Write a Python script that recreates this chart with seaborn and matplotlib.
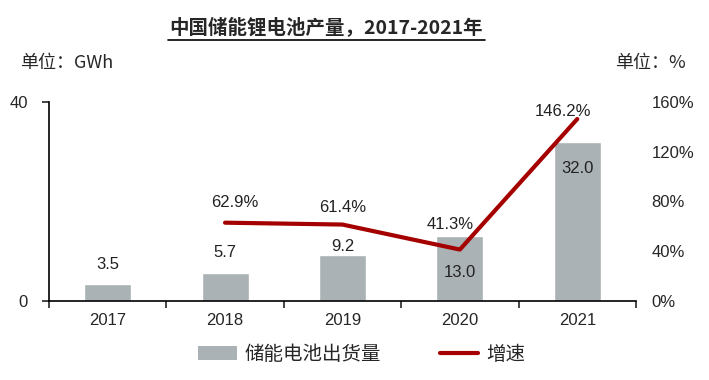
import numpy as np
import pandas as pd
import matplotlib
matplotlib.use("Agg")
import matplotlib.pyplot as plt
from matplotlib.patches import Patch
from matplotlib.lines import Line2D
import seaborn as sns

# dados
anos = ["2017", "2018", "2019", "2020", "2021"]
producao = [3.5, 5.7, 9.2, 13.0, 32.0]          # GWh
anos_cresc = ["2018", "2019", "2020", "2021"]
crescimento = [62.9, 61.4, 41.3, 146.2]         # %

cor_barra = "#ABB2B5"
cor_linha = "#A50000"

sns.set_style("white")
plt.rcParams["font.family"] = ["Liberation Sans", "Noto Sans CJK SC", "DejaVu Sans"]
fonte_cjk = ["Noto Sans CJK SC", "DejaVu Sans"]

fig = plt.figure(figsize=(7.09, 3.8), dpi=100)
ax = fig.add_axes([0.069, 0.208, 0.828, 0.524])

df = pd.DataFrame({"ano": anos, "producao": producao})
sns.barplot(data=df, x="ano", y="producao", color=cor_barra, width=0.4,
            saturation=1, ax=ax)
ax.set_ylim(0, 40)
ax.set_xlim(-0.5, 4.5)
ax.set_yticks([0, 40])
ax.set_xlabel("")
ax.set_ylabel("")
ax.tick_params(axis="y", labelsize=12, direction="out", length=5, width=1.2,
               left=True, pad=10)
ax.tick_params(axis="x", which="major", length=0, labelsize=12, pad=9)
ax.set_xticks(np.arange(-0.5, 5, 1), minor=True)
ax.tick_params(axis="x", which="minor", direction="out", length=5, width=1.2,
               bottom=True)
for s in ["top", "right"]:
    ax.spines[s].set_visible(False)
for s in ["left", "bottom"]:
    ax.spines[s].set_color("black")
    ax.spines[s].set_linewidth(1.2)

# rótulos das barras
desloc_barras = [(0, 13.7), (0, 14.4), (0, 6), (0, -26), (0, -19.4)]
for i, (v, d) in enumerate(zip(producao, desloc_barras)):
    ax.annotate(f"{v:.1f}", (i, v), xytext=d, textcoords="offset points",
                ha="center", va="center", fontsize=12, color="#222222")

# eixo secundário
ax2 = ax.twinx()
x_cresc = [anos.index(a) for a in anos_cresc]
sns.lineplot(x=x_cresc, y=crescimento, color=cor_linha, linewidth=3, ax=ax2)
ax2.set_ylim(0, 160)
ax2.set_yticks([0, 40, 80, 120, 160])
ax2.set_yticklabels([f"{t}%" for t in [0, 40, 80, 120, 160]])
ax2.tick_params(axis="y", labelsize=12, length=0, pad=11)
for s in ["top", "right", "left", "bottom"]:
    ax2.spines[s].set_visible(False)

desloc_linha = [(7, 14.4), (0, 12.2), (-7, 18), (-10, 5.5)]
for x, v, d in zip(x_cresc, crescimento, desloc_linha):
    ax2.annotate(f"{v:.1f}%", (x, v), xytext=d, textcoords="offset points",
                 ha="center", va="center", fontsize=12, color="#222222")

# título sublinhado
fig.text(0.46, 0.925, "中国储能锂电池产量，2017-2021年", ha="center", va="center",
         fontsize=14, fontweight="bold", family=fonte_cjk)
fig.add_artist(Line2D([0.237, 0.684], [0.895, 0.895], color="black", lw=1.2,
                      transform=fig.transFigure))

fig.text(0.028, 0.835, "单位：GWh", ha="left", va="center", fontsize=13,
         family=fonte_cjk)
fig.text(0.868, 0.835, "单位：%", ha="left", va="center", fontsize=13,
         family=fonte_cjk)

# legenda
handles = [Patch(facecolor=cor_barra, edgecolor="none"),
           Line2D([0], [0], color=cor_linha, lw=3)]
fig.legend(handles, ["储能电池出货量", "增速"], loc="center",
           bbox_to_anchor=(0.51, 0.068), ncol=2, frameon=False,
           prop={"family": fonte_cjk, "size": 14}, columnspacing=3.0,
           handlelength=2.0, handletextpad=0.4)

fig.savefig("out.png", dpi=100)
